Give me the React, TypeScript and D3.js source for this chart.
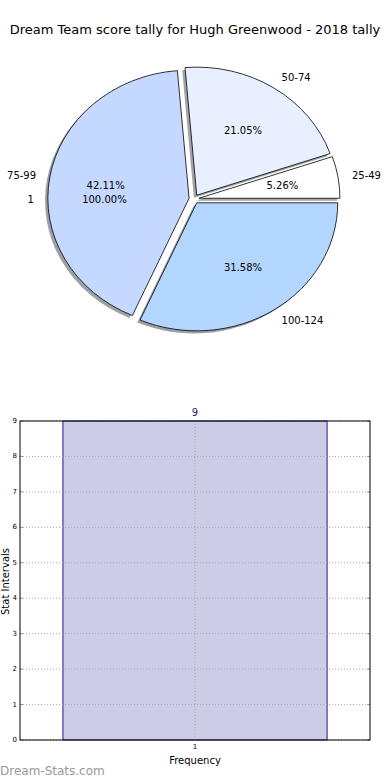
import * as d3 from "d3";

const title = "Dream Team score tally for Hugh Greenwood - 2018 tally";

// pie data
const sliceLabels = ["25-49", "50-74", "75-99", "100-124"];
const sliceValues = [1, 4, 8, 6];
const sliceColors = ["#ffffff", "#e8f0ff", "#c5d8ff", "#b3d6ff"];

// second (overlaid) pie
const innerLabels = ["1"];
const innerValues = [1];

// bar data
const barCategories = [1];
const barValues = [9];
const yTicks = [0, 1, 2, 3, 4, 5, 6, 7, 8, 9];

const W = 390;
const H = 780;
const font = "DejaVu Sans, sans-serif";

const PieChart = () => {
  const cx = 194;
  const cy = 199;
  const rx = 141;
  const ry = 128;
  const explode = 5 / rx;

  // matplotlib starts at 3 o'clock, counter clockwise
  const pie = d3
    .pie<number>()
    .sort(null)
    .value((d) => d)
    .startAngle(Math.PI / 2)
    .endAngle(Math.PI / 2 - 2 * Math.PI);

  const arcs = pie(sliceValues);
  const innerArcs = pie(innerValues);
  const arc = d3.arc<d3.PieArcDatum<number>>().innerRadius(0).outerRadius(1);
  const total = d3.sum(sliceValues);
  const innerTotal = d3.sum(innerValues);

  const mid = (a: d3.PieArcDatum<number>) => (a.startAngle + a.endAngle) / 2;
  const pos = (m: number, k: number) => [
    cx + Math.sin(m) * k * rx,
    cy - Math.cos(m) * k * ry,
  ];

  const shadowColor = (c: string) => {
    const col = d3.rgb(c);
    return d3.rgb(col.r * 0.3, col.g * 0.3, col.b * 0.3).toString();
  };

  return (
    <g>
      <g transform={`translate(${cx},${cy}) scale(${rx},${ry})`}>
        {arcs.map((a, i) => {
          const m = mid(a);
          return (
            <path
              key={"s" + i}
              d={arc(a) || ""}
              transform={`translate(${Math.sin(m) * explode - 0.02},${
                -Math.cos(m) * explode + 0.02
              })`}
              fill={shadowColor(sliceColors[i])}
              opacity={0.5}
            />
          );
        })}
        {arcs.map((a, i) => {
          const m = mid(a);
          return (
            <path
              key={"p" + i}
              d={arc(a) || ""}
              transform={`translate(${Math.sin(m) * explode},${-Math.cos(m) * explode})`}
              fill={sliceColors[i]}
              stroke="#000"
              strokeWidth={0.8}
              vectorEffect="non-scaling-stroke"
              strokeLinejoin="round"
            />
          );
        })}
      </g>
      {arcs.map((a, i) => {
        const m = mid(a);
        const [lx, ly] = pos(m, 1.1 + explode);
        const [px, py] = pos(m, 0.6 + explode);
        return (
          <g key={"l" + i} fontFamily={font} fontSize={10} fill="#000">
            <text
              x={lx}
              y={ly}
              textAnchor={lx < cx ? "end" : "start"}
              dominantBaseline="central"
            >
              {sliceLabels[i]}
            </text>
            <text x={px} y={py} textAnchor="middle" dominantBaseline="central">
              {((sliceValues[i] / total) * 100).toFixed(2) + "%"}
            </text>
          </g>
        );
      })}
      {innerArcs.map((a, i) => {
        const m = mid(a);
        const [lx, ly] = pos(m, 1.1 + explode);
        const [px, py] = pos(m, 0.6 + explode);
        return (
          <g key={"i" + i} fontFamily={font} fontSize={10} fill="#000">
            <text
              x={lx}
              y={ly}
              textAnchor={lx < cx ? "end" : "start"}
              dominantBaseline="central"
            >
              {innerLabels[i]}
            </text>
            <text x={px} y={py} textAnchor="middle" dominantBaseline="central">
              {((innerValues[i] / innerTotal) * 100).toFixed(2) + "%"}
            </text>
          </g>
        );
      })}
    </g>
  );
};

const BarChart = () => {
  const left = 20;
  const right = 370;
  const top = 421;
  const bottom = 740;

  const x = d3.scaleLinear().domain([0.47, 1.53]).range([left, right]);
  const y = d3.scaleLinear().domain([0, 9]).range([bottom, top]);
  const barWidth = 0.8;

  return (
    <g fontFamily={font}>
      {barCategories.map((c, i) => (
        <g key={"b" + i}>
          <rect
            x={x(c - barWidth / 2)}
            y={y(barValues[i])}
            width={x(c + barWidth / 2) - x(c - barWidth / 2)}
            height={y(0) - y(barValues[i])}
            fill="#ccccE6"
            stroke="#1a1a99"
            strokeWidth={1}
          />
          <text
            x={x(c)}
            y={y(barValues[i]) - 5}
            textAnchor="middle"
            fontSize={10}
            fill="#1a1a80"
          >
            {barValues[i]}
          </text>
        </g>
      ))}
      {/* grid */}
      {yTicks.map((t) => (
        <line
          key={"g" + t}
          x1={left}
          x2={right}
          y1={y(t)}
          y2={y(t)}
          stroke="#aaaaaa"
          strokeWidth={1}
          strokeDasharray="1,2"
        />
      ))}
      {barCategories.map((c) => (
        <line
          key={"gx" + c}
          x1={x(c)}
          x2={x(c)}
          y1={top}
          y2={bottom}
          stroke="#aaaaaa"
          strokeWidth={1}
          strokeDasharray="1,2"
        />
      ))}
      {/* ticks */}
      {yTicks.map((t) => (
        <g key={"t" + t}>
          <line x1={left} x2={left + 3} y1={y(t)} y2={y(t)} stroke="#999" />
          <line x1={right - 3} x2={right} y1={y(t)} y2={y(t)} stroke="#999" />
          <text
            x={left - 3}
            y={y(t)}
            textAnchor="end"
            dominantBaseline="central"
            fontSize={7}
            fill="#000"
          >
            {t}
          </text>
        </g>
      ))}
      {barCategories.map((c) => (
        <text
          key={"xt" + c}
          x={x(c)}
          y={bottom + 9}
          textAnchor="middle"
          fontSize={7}
          fill="#000"
        >
          {c}
        </text>
      ))}
      <rect
        x={left}
        y={top}
        width={right - left}
        height={bottom - top}
        fill="none"
        stroke="#000"
        strokeWidth={1}
      />
      <text x={195} y={764} textAnchor="middle" fontSize={10} fill="#000">
        Frequency
      </text>
      <text
        transform={`translate(9,${(top + bottom) / 2 + 1}) rotate(-90)`}
        textAnchor="middle"
        fontSize={10}
        fill="#000"
      >
        Stat Intervals
      </text>
    </g>
  );
};

export default function App() {
  return (
    <svg
      width={W}
      height={H}
      style={{ position: "absolute", left: 0, top: 0, background: "#fff" }}
    >
      <rect width={W} height={H} fill="#fff" />
      <text
        x={195}
        y={34}
        textAnchor="middle"
        fontFamily={font}
        fontSize={13}
        fill="#000"
      >
        {title}
      </text>
      <PieChart />
      <BarChart />
      <text x={0} y={775} fontFamily={font} fontSize={12} fill="#999">
        Dream-Stats.com
      </text>
    </svg>
  );
}
